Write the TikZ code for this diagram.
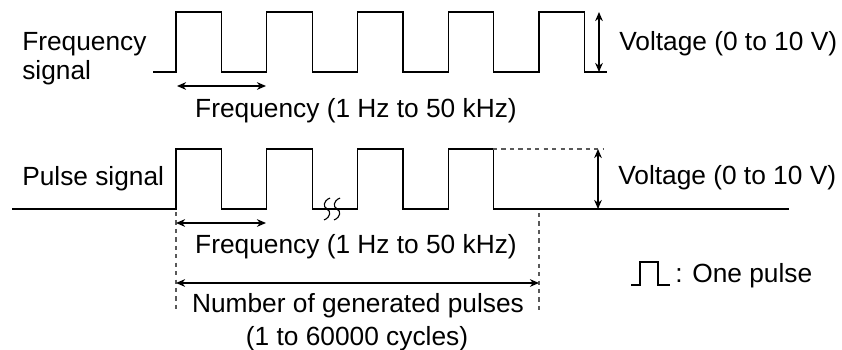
\documentclass[tikz,border=0pt]{standalone}
\usepackage{fontspec}
\setmainfont{Liberation Sans}
\usetikzlibrary{arrows.meta}

\begin{document}
\begin{tikzpicture}[x=0.025cm, y=-0.025cm,
		sig/.style={line width=0.9pt},
		dim/.style={line width=0.8pt, {Stealth[length=6.5pt,width=5.5pt]}-{Stealth[length=6.5pt,width=5.5pt]}},
		guide/.style={line width=0.8pt, black!65, dash pattern=on 3pt off 3pt},
		lbl/.style={font=\fontsize{18.7pt}{20.6pt}\selectfont, inner sep=0pt}]
		\useasboundingbox (0,0) rectangle (842,349);
		
		% frequency signal
		\draw[sig] (153,72) \foreach \k in {0,...,4}{ -- ({176+90.75*\k},72) -- ({176+90.75*\k},12) -- ({221.5+90.75*\k},12) -- ({221.5+90.75*\k},72)} -- (607,72);
		\node[lbl, anchor=base west, align=left] (fsig) at (22,79) {Frequency\\signal};
		
		\coordinate (vt1) at (599,12);
		\coordinate (vt2) at (599,72);
		\draw[dim] (vt1) -- (vt2);
		\node[lbl, anchor=base west] (vtop) at (619,50) {Voltage (0 to 10 V)};
		
		\coordinate (ft1) at (177,86);
		\coordinate (ft2) at (266,86);
		\draw[dim] (ft1) -- (ft2);
		\node[lbl, anchor=base] (ftop) at (356,117) {Frequency (1 Hz to 50 kHz)};
		
		% pulse signal
		\draw[sig] (12,209) \foreach \k in {0,...,3}{ -- ({176+90.75*\k},209) -- ({176+90.75*\k},149) -- ({221.5+90.75*\k},149) -- ({221.5+90.75*\k},209)} -- (789,209);
		\node[lbl, anchor=base west] (psig) at (22,185) {Pulse signal};
		
		% break marks
		\foreach \bx in {327,337}
			\draw[line width=0.8pt] ({\bx+3},198) .. controls ({\bx-4},201) and ({\bx-4},207) .. (\bx,209) .. controls ({\bx+4},211) and ({\bx+4},217) .. ({\bx-3},220);
		
		% guides
		\draw[guide] (493,149) -- (603,149);
		\draw[guide] (176,212) -- (176,313);
		\draw[guide] (539,213) -- (539,313);
		
		\coordinate (vb1) at (598,149);
		\coordinate (vb2) at (598,209);
		\draw[dim] (vb1) -- (vb2);
		\node[lbl, anchor=base west] (vbot) at (618,184) {Voltage (0 to 10 V)};
		
		\coordinate (fb1) at (176,223);
		\coordinate (fb2) at (266,223);
		\draw[dim] (fb1) -- (fb2);
		\node[lbl, anchor=base] (fbot) at (356,253) {Frequency (1 Hz to 50 kHz)};
		
		\coordinate (np1) at (176,283);
		\coordinate (np2) at (539,283);
		\draw[dim] (np1) -- (np2);
		\node[lbl, anchor=base] (npul) at (358,312) {Number of generated pulses};
		\node[lbl, anchor=base] (ncyc) at (357,345) {(1 to 60000 cycles)};
		
		% one pulse
		\draw[sig] (631,285) -- (640,285) -- (640,262) -- (658,262) -- (658,285) -- (670,285);
		\node[lbl, anchor=base west] (opl) at (675,282) {: One pulse};
		
	\end{tikzpicture}
\end{document}
